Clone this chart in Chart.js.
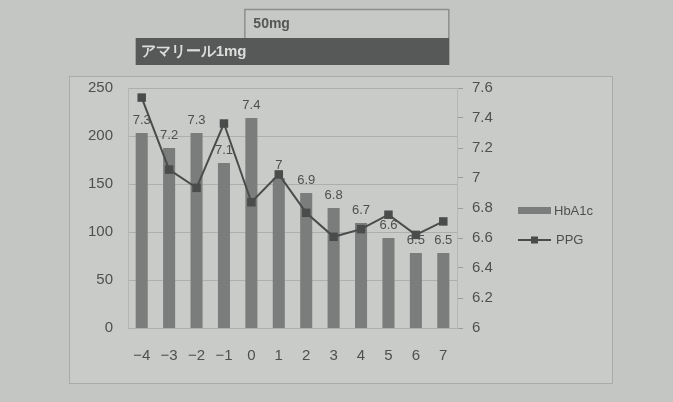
<!DOCTYPE html>
<html>
<head>
<meta charset="utf-8">
<script src="https://cdn.jsdelivr.net/npm/chart.js@4"></script>
<style>
  body { margin: 0; background: #c4c6c4; }
  #wrap { position: relative; width: 673px; height: 402px; }
</style>
</head>
<body>
<div id="wrap"><canvas id="chart" width="673" height="402"></canvas></div>
<script>
// weeks relative to the switch
const weeks = ['−4', '−3', '−2', '−1', '0', '1', '2', '3', '4', '5', '6', '7'];
const hba1c = [7.3, 7.2, 7.3, 7.1, 7.4, 7.0, 6.9, 6.8, 6.7, 6.6, 6.5, 6.5];
const ppg = [240, 165, 146, 213, 131, 160, 120, 95, 103, 118, 97, 111];
// medication periods: [label, first week index, last week index]
const periods = [
    ['アマリール1mg', 0, 11],
    ['50mg', 4, 11]
];

const barColor = '#7b7d7c';
const lineColor = '#4a4c4b';
const textColor = '#4e504f';

// light panel behind the whole chart
const framePlugin = {
    id: 'frame',
    beforeDraw(chart) {
        const ctx = chart.ctx;
        ctx.save();
        ctx.fillStyle = '#c9cbc9';
        ctx.fillRect(69, 76, 543, 307);
        ctx.strokeStyle = '#a9aba9';
        ctx.lineWidth = 1;
        ctx.strokeRect(69.5, 76.5, 543, 307);
        ctx.restore();
    }
};

// value labels over the bars
const barLabels = {
    id: 'barLabels',
    afterDatasetsDraw(chart) {
        const ctx = chart.ctx;
        const meta = chart.getDatasetMeta(0);
        ctx.save();
        ctx.font = '13px "Liberation Sans", Arial, sans-serif';
        ctx.fillStyle = textColor;
        ctx.textAlign = 'center';
        ctx.textBaseline = 'middle';
        meta.data.forEach((bar, i) => {
            ctx.fillText(String(hba1c[i]), bar.x, bar.y - 13);
        });
        ctx.restore();
    }
};

// drug banners above the plot, spanning the bars of each period
const banners = {
    id: 'banners',
    afterDraw(chart) {
        const ctx = chart.ctx;
        const meta = chart.getDatasetMeta(0);
        const half = meta.data[0].width / 2;
        ctx.save();
        ctx.textBaseline = 'middle';
        ctx.textAlign = 'left';

        // lower, dark banner
        let p = periods[0];
        let x0 = meta.data[p[1]].x - half, x1 = meta.data[p[2]].x + half;
        ctx.fillStyle = '#575958';
        ctx.fillRect(x0, 38, x1 - x0, 27);
        ctx.fillStyle = '#dcdedc';
        ctx.font = 'bold 15px "Liberation Sans", Arial, sans-serif';
        ctx.fillText(p[0], x0 + 5, 52);

        // upper, light banner
        p = periods[1];
        x0 = meta.data[p[1]].x - half - 1;
        x1 = meta.data[p[2]].x + half;
        ctx.fillStyle = '#c7c9c7';
        ctx.fillRect(x0, 9, x1 - x0, 29);
        ctx.strokeStyle = '#8d8f8e';
        ctx.lineWidth = 1.5;
        ctx.beginPath();
        ctx.moveTo(x0 + 0.5, 38);
        ctx.lineTo(x0 + 0.5, 9.5);
        ctx.lineTo(x1 - 0.5, 9.5);
        ctx.lineTo(x1 - 0.5, 38);
        ctx.stroke();
        ctx.fillStyle = '#555756';
        ctx.font = 'bold 14px "Liberation Sans", Arial, sans-serif';
        ctx.fillText(p[0], x0 + 9, 24);
        ctx.restore();
    }
};

// legend to the right of the plot
const sideLegend = {
    id: 'sideLegend',
    afterDraw(chart) {
        const ctx = chart.ctx;
        const x = chart.chartArea.right + 61;
        ctx.save();
        ctx.font = '13px "Liberation Sans", Arial, sans-serif';
        ctx.fillStyle = textColor;
        ctx.textBaseline = 'middle';
        ctx.fillText('HbA1c', x + 36, 211);
        ctx.fillText('PPG', x + 38, 240);
        ctx.fillStyle = barColor;
        ctx.fillRect(x, 207, 33, 7);
        ctx.strokeStyle = lineColor;
        ctx.lineWidth = 2;
        ctx.beginPath();
        ctx.moveTo(x, 240);
        ctx.lineTo(x + 33, 240);
        ctx.stroke();
        ctx.fillStyle = lineColor;
        ctx.fillRect(x + 13, 236.5, 7, 7);
        ctx.restore();
    }
};

const tickFont = { family: '"Liberation Sans", Arial, sans-serif', size: 15 };

new Chart(document.getElementById('chart'), {
    type: 'bar',
    data: {
        labels: weeks,
        datasets: [{
            label: 'HbA1c',
            data: hba1c,
            yAxisID: 'y2',
            backgroundColor: barColor,
            categoryPercentage: 1,
            barPercentage: 0.44,
            order: 2
        }, {
            type: 'line',
            label: 'PPG',
            data: ppg,
            yAxisID: 'y',
            borderColor: lineColor,
            borderWidth: 2,
            backgroundColor: lineColor,
            pointStyle: 'rect',
            pointRadius: 6,
            pointBorderWidth: 0,
            tension: 0,
            order: 1
        }]
    },
    options: {
        responsive: false,
        animation: false,
        layout: { padding: { left: 70, right: 176, top: 88, bottom: 28 } },
        plugins: {
            legend: { display: false },
            tooltip: { enabled: false }
        },
        scales: {
            x: {
                grid: { display: false },
                border: { display: false },
                ticks: { color: textColor, font: tickFont, padding: 11, maxRotation: 0 },
                afterFit(scale) { scale.height = 46; }
            },
            y: {
                position: 'left',
                min: 0,
                max: 250,
                ticks: { stepSize: 50, color: textColor, font: tickFont, padding: 15 },
                grid: { color: '#adafad', drawTicks: false },
                border: { display: true, color: '#b5b7b5' },
                afterFit(scale) { scale.width = 58; }
            },
            y2: {
                position: 'right',
                min: 6,
                max: 7.6,
                ticks: {
                    stepSize: 0.2,
                    color: textColor,
                    font: tickFont,
                    padding: 9,
                    callback: v => String(Math.round(v * 10) / 10)
                },
                grid: { drawOnChartArea: false, drawTicks: true, tickLength: 6, color: '#9a9c9b' },
                border: { display: true, color: '#b5b7b5' },
                afterFit(scale) { scale.width = 40; }
            }
        }
    },
    plugins: [framePlugin, barLabels, banners, sideLegend]
});
</script>
</body>
</html>
